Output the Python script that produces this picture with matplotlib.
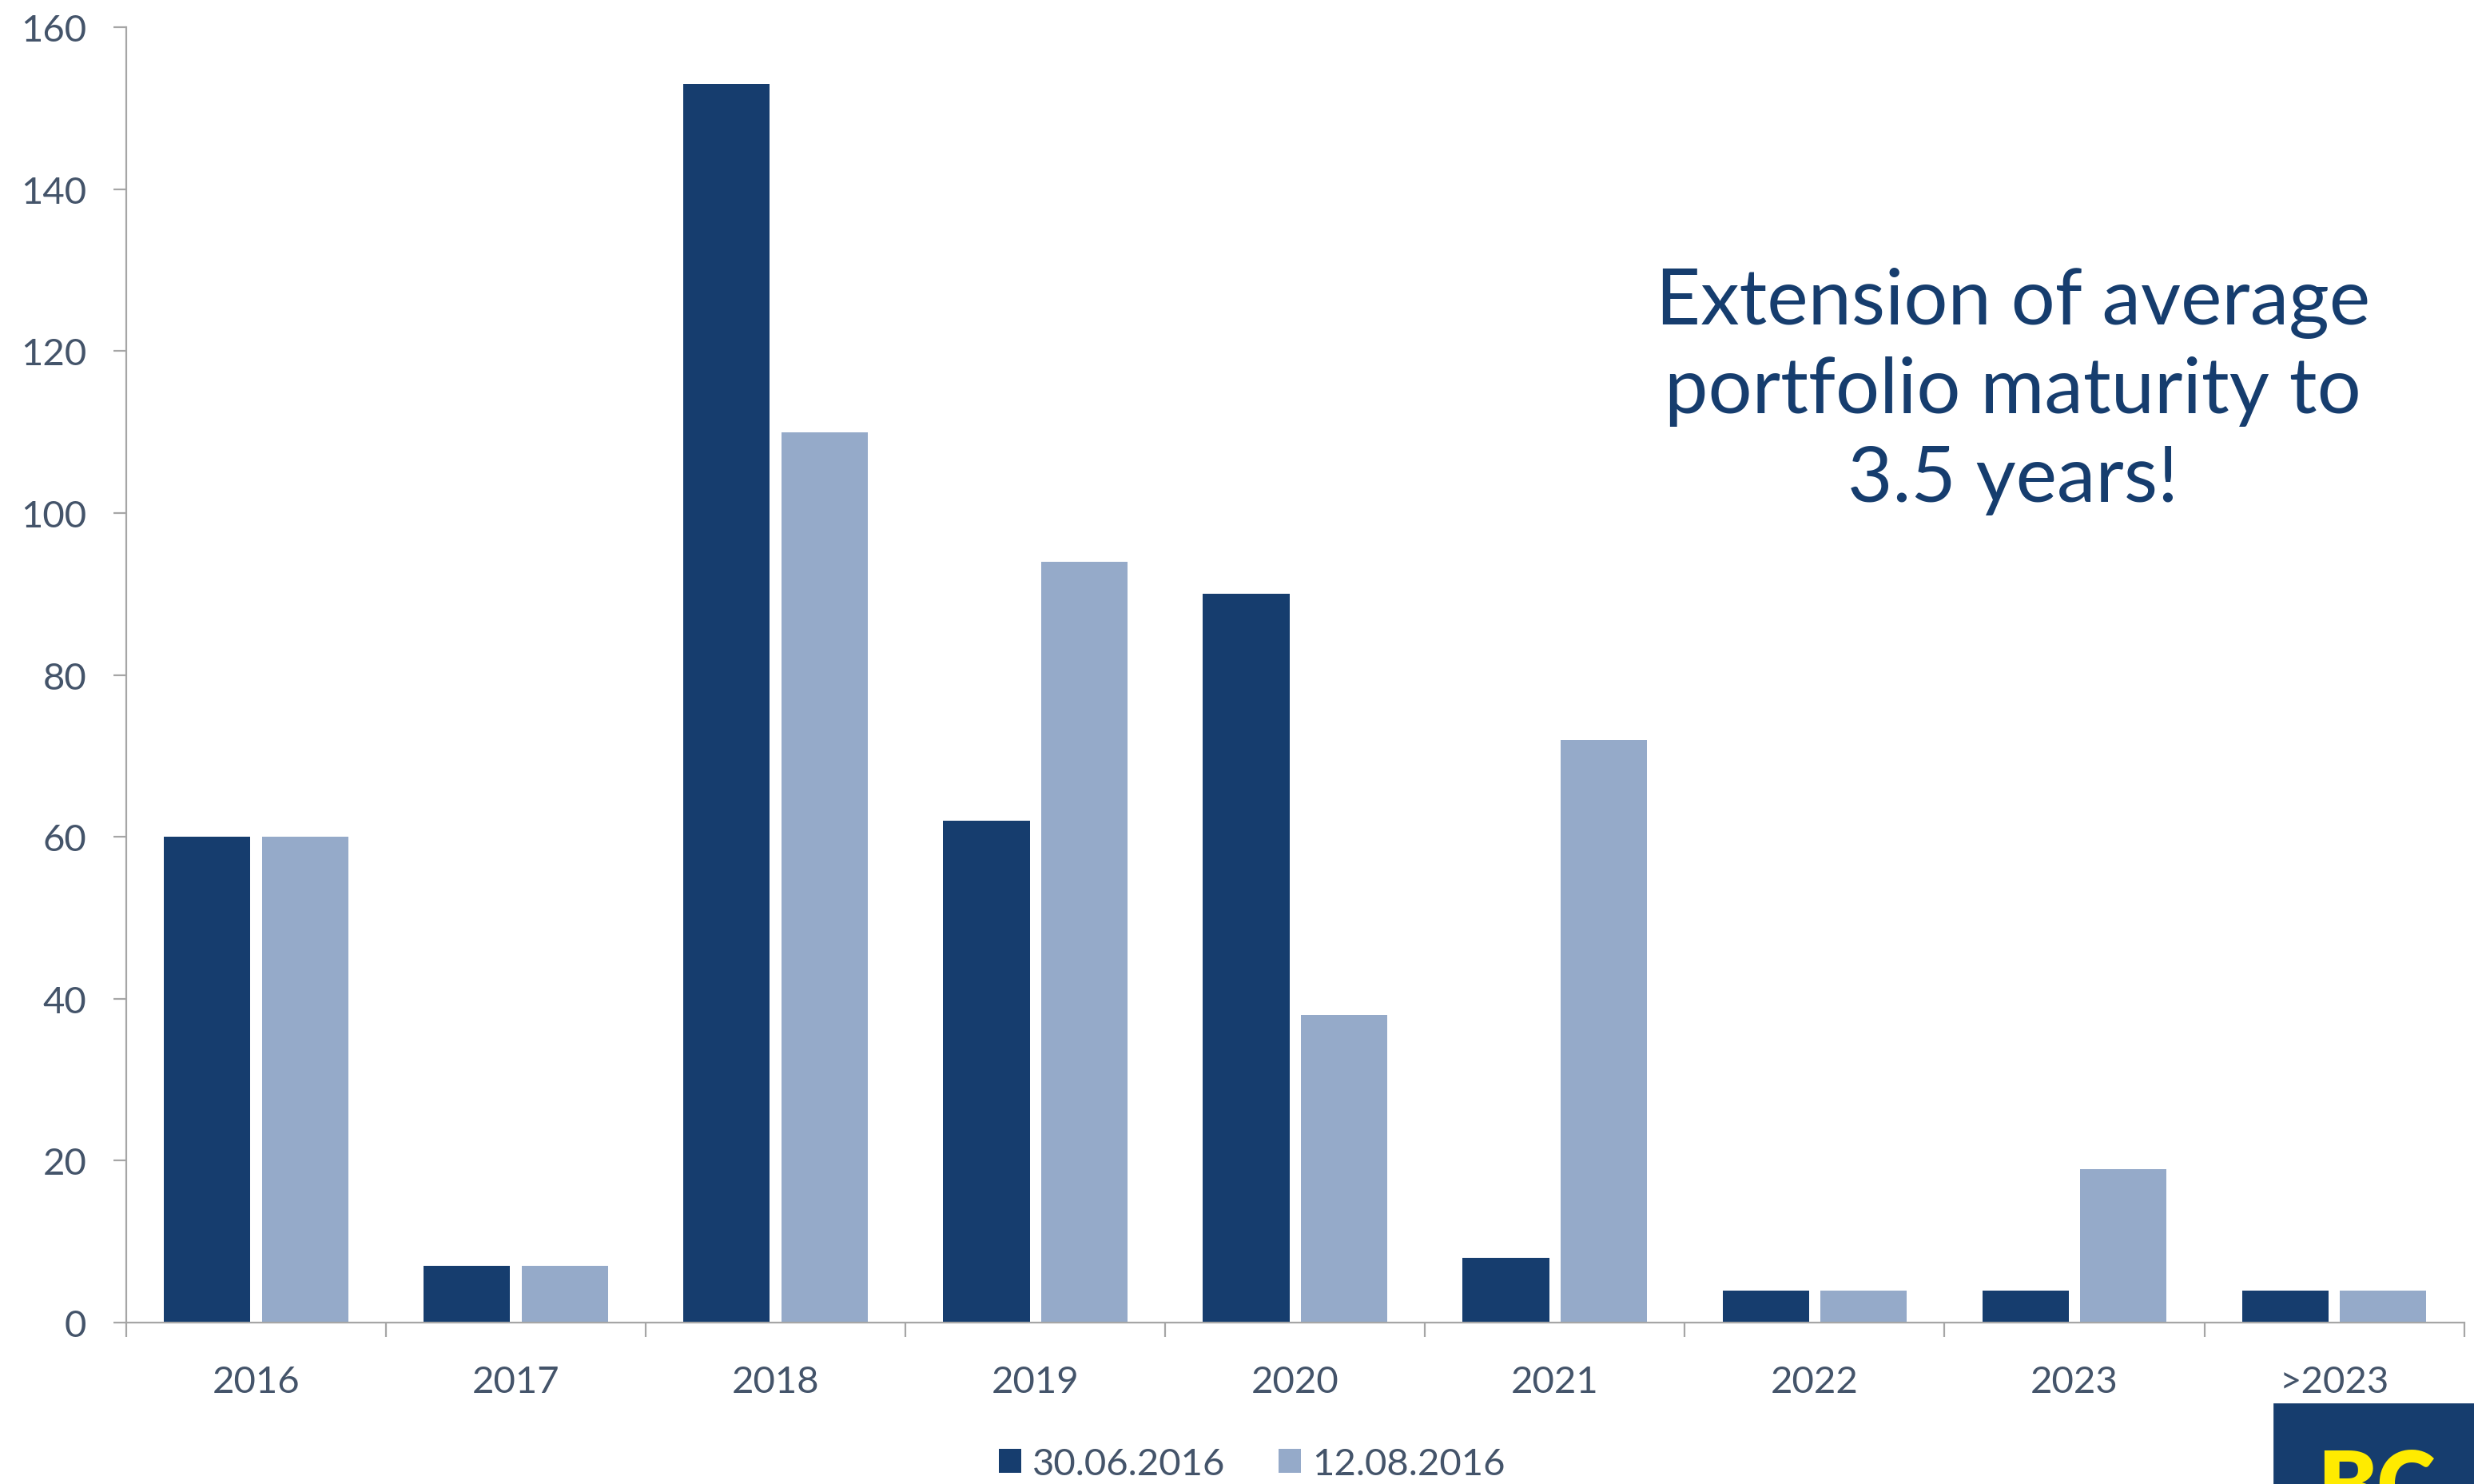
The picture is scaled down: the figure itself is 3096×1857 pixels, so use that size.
import matplotlib
matplotlib.use("Agg")
import matplotlib.pyplot as plt
import numpy as np
from matplotlib.patches import Rectangle

categories = ["2016", "2017", "2018", "2019", "2020", "2021", "2022", "2023", ">2023"]
series_a_label = "30.06.2016"
series_b_label = "12.08.2016"
series_a = [60, 7, 153, 62, 90, 8, 4, 4, 4]
series_b = [60, 7, 110, 94, 38, 72, 4, 19, 4]
y_ticks = [0, 20, 40, 60, 80, 100, 120, 140, 160]
note = "Extension of average\nportfolio maturity to\n3.5 years!"

DARK = "#163D6E"
LIGHT = "#95AAC9"
TXT = "#44546A"
AXC = "#A6A6A6"

plt.rcParams["font.family"] = ["Lato", "DejaVu Sans"]

fig = plt.figure(figsize=(15.48, 9.29), dpi=200)
ax = fig.add_axes([0.051, 0.1087, 0.945, 0.8723])

x = np.arange(len(categories))
w = 0.333
off = w / 2 + 0.022
ax.bar(x - off, series_a, width=w, color=DARK, label=series_a_label)
ax.bar(x + off, series_b, width=w, color=LIGHT, label=series_b_label)

ax.set_xlim(-0.5, len(categories) - 0.5)
ax.set_ylim(0, 160)
ax.set_yticks(y_ticks)
ax.set_yticklabels([str(v) for v in y_ticks])
ax.set_xticks(x)
ax.set_xticklabels(categories)
ax.set_xticks(np.arange(len(categories) + 1) - 0.5, minor=True)

for s in ["top", "right"]:
    ax.spines[s].set_visible(False)
for s in ["left", "bottom"]:
    ax.spines[s].set_color(AXC)
    ax.spines[s].set_linewidth(0.8)

ax.tick_params(axis="y", direction="out", length=5.8, width=0.8, color=AXC,
               labelsize=17, labelcolor=TXT, pad=12)
ax.tick_params(axis="x", which="major", length=0, labelsize=17, labelcolor=TXT, pad=19)
ax.tick_params(axis="x", which="minor", direction="out", length=6.5, width=0.8, color=AXC)

fig.legend(loc="center", bbox_to_anchor=(0.506, 0.0135), ncol=2, frameon=False,
           fontsize=17, labelcolor=TXT, handlelength=0.6, handleheight=0.6,
           handletextpad=0.3, columnspacing=1.4)

fig.text(0.8137, 0.7363, note, ha="center", va="center", fontsize=35,
         color=DARK, linespacing=1.32)

# logo corner (partially cropped in the reference)
fig.patches.append(Rectangle((2846 / 3096, 0), 1 - 2846 / 3096, 100 / 1858,
                             transform=fig.transFigure, color=DARK, zorder=5))
fig.text(2900 / 3096, -0.021, "BC", ha="left", va="baseline", fontsize=40,
         fontweight="heavy", color="#FFEB00", zorder=6)

fig.savefig("out.png", dpi=200)
